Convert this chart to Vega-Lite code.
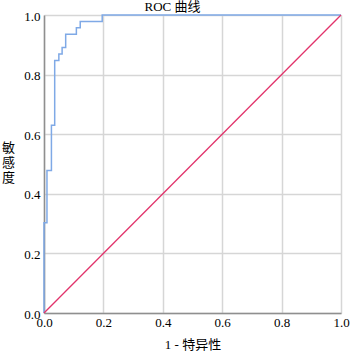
{
  "$schema": "https://vega.github.io/schema/vega-lite/v6.json",
  "width": 297,
  "height": 298,
  "autosize": "none",
  "padding": {"left": 44, "top": 15, "right": 9, "bottom": 38},
  "background": "white",
  "title": {"text": "ROC 曲线", "fontSize": 13, "font": "Liberation Serif, Noto Sans CJK SC", "fontWeight": "normal", "color": "black", "anchor": "middle", "frame": "group", "offset": 3, "dx": -20, "dy": 7},
  "datasets": {
    "roc": [
      {"fpr": 0, "tpr": 0},
      {"fpr": 0.010, "tpr": 0.303},
      {"fpr": 0.025, "tpr": 0.478},
      {"fpr": 0.036, "tpr": 0.630},
      {"fpr": 0.050, "tpr": 0.847},
      {"fpr": 0.061, "tpr": 0.869},
      {"fpr": 0.073, "tpr": 0.891},
      {"fpr": 0.109, "tpr": 0.935},
      {"fpr": 0.122, "tpr": 0.957},
      {"fpr": 0.196, "tpr": 0.978},
      {"fpr": 1, "tpr": 1}
    ],
    "ref": [
      {"fpr": 0, "tpr": 0},
      {"fpr": 1, "tpr": 1}
    ]
  },
  "config": {
    "view": {"stroke": null},
    "axis": {
      "domainColor": "#8f8f8f",
      "domainWidth": 1.5,
      "gridColor": "#d6d6d6",
      "gridWidth": 1.5,
      "ticks": false,
      "labelFont": "Liberation Serif",
      "labelFontSize": 13,
      "labelColor": "black",
      "titleFont": "Liberation Serif, Noto Sans CJK SC",
      "titleFontSize": 13,
      "titleFontWeight": "normal",
      "titleColor": "black"
    }
  },
  "encoding": {
    "x": {
      "field": "fpr", "type": "quantitative",
      "scale": {"domain": [0, 1], "nice": false},
      "axis": {"title": "1 - 特异性", "values": [0, 0.2, 0.4, 0.6, 0.8, 1], "format": ".1f", "labelFlush": false, "labelPadding": 3, "titleY": 31, "titleBaseline": "middle"}
    },
    "y": {
      "field": "tpr", "type": "quantitative",
      "scale": {"domain": [0, 1], "nice": false},
      "axis": {"title": ["敏", "感", "度"], "values": [0, 0.2, 0.4, 0.6, 0.8, 1], "format": ".1f", "labelFlush": false, "labelPadding": 4, "labelOffset": 1, "titleAngle": 0, "titleX": -36, "titleY": 132, "titleAlign": "center", "titleBaseline": "middle", "titleLineHeight": 15}
    }
  },
  "layer": [
    {
      "data": {"name": "roc"},
      "mark": {"type": "line", "interpolate": "step-before", "color": "#7fa9e6", "strokeWidth": 1.5},
      "encoding": {"order": {"field": "fpr", "type": "quantitative"}}
    },
    {
      "data": {"name": "ref"},
      "mark": {"type": "line", "color": "#e2336b", "strokeWidth": 1.3},
      "encoding": {}
    }
  ]
}
